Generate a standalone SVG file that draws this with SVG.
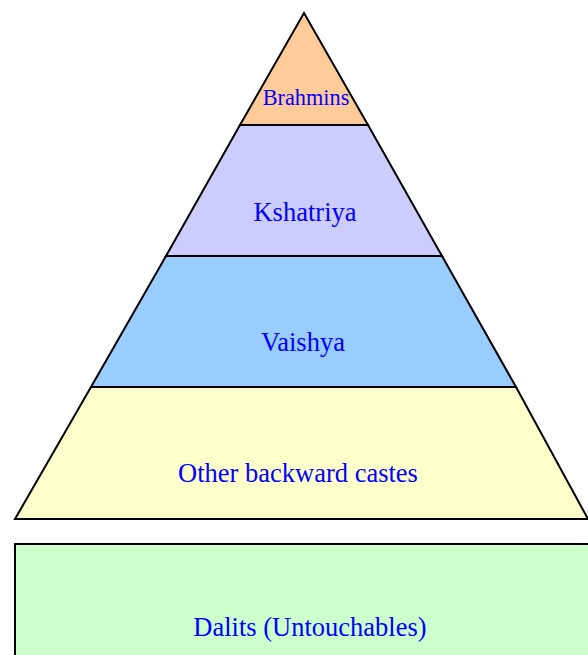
<svg xmlns="http://www.w3.org/2000/svg" width="588" height="655" viewBox="0 0 588 655">
<style>
.layer{stroke:#000;stroke-width:2;stroke-linejoin:miter}
.lbl{font-family:"Liberation Serif","Times New Roman",serif;fill:#0000FF;text-anchor:middle;font-size:26.5px}
</style>
<rect width="588" height="655" fill="#fff"/>
<g id="dalits">
<rect class="layer" x="15" y="544" width="600" height="130" fill="#CCFFCC"/>
<text class="lbl" x="310" y="636">Dalits (Untouchables)</text>
</g>
<g id="other-backward-castes">
<polygon class="layer" points="91,387 516,387 588,519 15,519" fill="#FFFFCC"/>
<text class="lbl" x="298" y="482">Other backward castes</text>
</g>
<g id="vaishya">
<polygon class="layer" points="166,256 442,256 516,387 91,387" fill="#99CCFF"/>
<text class="lbl" x="303" y="351">Vaishya</text>
</g>
<g id="kshatriya">
<polygon class="layer" points="240,125 368,125 442,256 166,256" fill="#CCCCFF"/>
<text class="lbl" x="305" y="221">Kshatriya</text>
</g>
<g id="brahmins">
<polygon class="layer" points="304,13 368,125 240,125" fill="#FFCC99"/>
<text class="lbl" x="306" y="105" style="font-size:22.3px">Brahmins</text>
</g>
<g id="connectors"/>
</svg>
